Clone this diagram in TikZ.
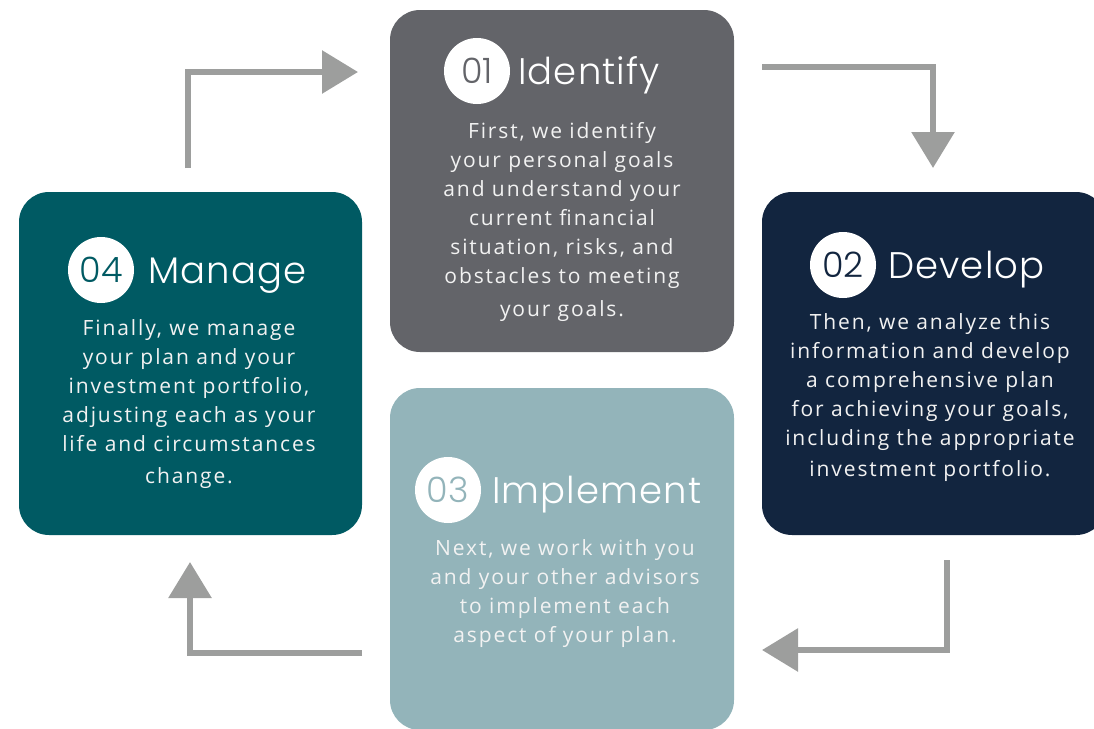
\documentclass[tikz,border=0pt]{standalone}
\usepackage{fontspec}
\setmainfont{Open Sans}[LetterSpace=9]
\newfontfamily\titlefont{Poppins Light}[LetterSpace=3]
\newfontfamily\numfont{Poppins Light}
\usetikzlibrary{arrows.meta}
\definecolor{boxgrey}{HTML}{636469}
\definecolor{boxnavy}{HTML}{12253F}
\definecolor{boxlight}{HTML}{93B4BA}
\definecolor{boxteal}{HTML}{005A63}
\definecolor{arrowgrey}{HTML}{9D9E9D}
\definecolor{bodytext}{HTML}{F2F2F2}
\tikzset{
  stepbox/.style={draw=none, rounded corners=30pt, inner sep=0pt},
  numcircle/.style={circle, fill=white, minimum size=66pt, inner sep=0pt, font=\numfont\fontsize{35}{35}\selectfont},
  titletext/.style={anchor=base west, inner sep=0pt, text=white, font=\titlefont\fontsize{37}{37}\selectfont},
  bodynode/.style={anchor=north, inner sep=0pt, align=center, text=bodytext, font=\fontsize{21}{29}\selectfont},
  flow/.style={draw=arrowgrey, line width=6pt, -{Triangle[width=42pt,length=36pt]}, fill=none}
}
\begin{document}
\begin{tikzpicture}[x=1pt,y=-1pt]
\useasboundingbox (0,0) rectangle (1094,728);
\clip (0,0) rectangle (1094,728);
% boxes
\node[stepbox, fill=boxgrey, minimum width=344pt, minimum height=342pt] (identify) at (562,181) {};
\node[stepbox, fill=boxnavy, minimum width=344pt, minimum height=343pt] (develop) at (934,363.5) {};
\node[stepbox, fill=boxlight, minimum width=344pt, minimum height=342pt] (implement) at (562,559) {};
\node[stepbox, fill=boxteal, minimum width=343pt, minimum height=343pt] (manage) at (190.5,363.5) {};
% titles
\node[numcircle, text=boxgrey] (c1) at (477,71) {01};
\node[titletext] (t1) at (518,84) {Identify};
\node[numcircle, text=boxnavy] (c2) at (843,265) {02};
\node[titletext] (t2) at (888,278) {Develop};
\node[numcircle, text=boxlight] (c3) at (448,490) {03};
\node[titletext] (t3) at (492,503) {Implement};
\node[numcircle, text=boxteal] (c4) at (101,270) {04};
\node[titletext] (t4) at (148,283) {Manage};
% bodies
\node[bodynode] (b1) at (562,122) {First, we identify\\your personal goals\\and understand your\\current financial\\situation, risks, and\\obstacles to meeting\\[4pt]your goals.};
\node[bodynode] (b2) at (930,313) {Then, we analyze this\\information and develop\\a comprehensive plan\\for achieving your goals,\\including the appropriate\\[2pt]investment portfolio.};
\node[bodynode] (b3) at (565,539) {Next, we work with you\\and your other advisors\\to implement each\\aspect of your plan.};
\node[bodynode] (b4) at (189,319) {Finally, we manage\\your plan and your\\investment portfolio,\\adjusting each as your\\life and circumstances\\[3pt]change.};
% connectors
\coordinate (a1s) at (188,168);
\coordinate (a1e) at (358,72);
\coordinate (a2s) at (762,67);
\coordinate (a2e) at (933,168);
\coordinate (a3s) at (947,560);
\coordinate (a3e) at (762,650);
\coordinate (a4s) at (362,653);
\coordinate (a4e) at (190,562);
\draw[flow] (a1s) |- (a1e);
\draw[flow] (a2s) -| (a2e);
\draw[flow] (a3s) |- (a3e);
\draw[flow] (a4s) -| (a4e);
\end{tikzpicture}
\end{document}
